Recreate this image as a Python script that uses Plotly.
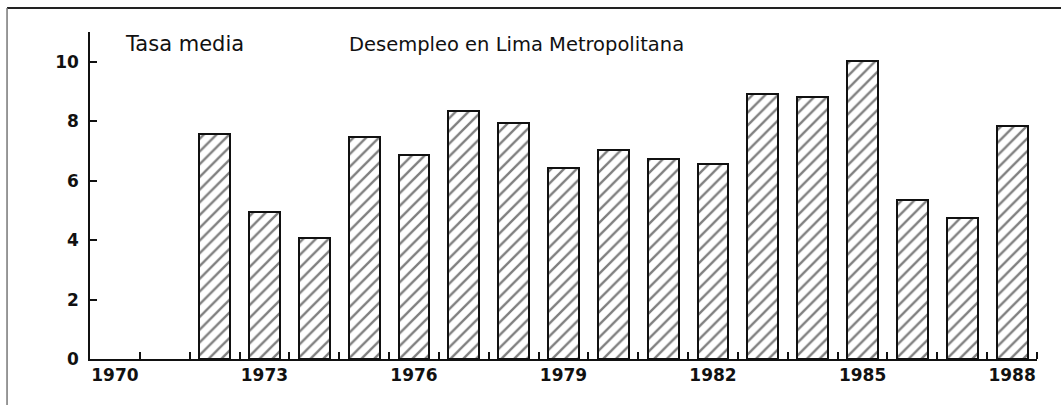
"""Desempleo en Lima Metropolitana: hatched bar chart."""

import plotly.graph_objects as go

# Tasa media de desempleo por año (1970 y 1971 sin dato)
YEARS = list(range(1970, 1989))
RATES = [None, None, 7.57, 4.95, 4.06, 7.47, 6.86, 8.35, 7.94, 6.42, 7.03,
         6.72, 6.56, 8.92, 8.82, 10.02, 5.34, 4.74, 7.85]

X_LABEL_YEARS = [1970, 1973, 1976, 1979, 1982, 1985, 1988]
SLOT_EDGES = [y + 0.5 for y in range(1970, 1989)]
Y_TICKS = [0, 2, 4, 6, 8, 10]

TITLE = "Desempleo en Lima Metropolitana"
Y_LABEL = "Tasa media"

INK = "#111111"
FONT = "DejaVu Sans"

fig = go.Figure()
fig.add_trace(
    go.Bar(
        x=YEARS,
        y=RATES,
        width=0.62,
        marker={
            "color": "white",
            "line": {"color": INK, "width": 2},
            "pattern": {"shape": "/", "fgcolor": "#000000", "bgcolor": "white",
                        "size": 9, "solidity": 0.26},
        },
        showlegend=False,
    )
)

fig.update_layout(
    width=1061,
    height=405,
    margin={"l": 90, "r": 24, "t": 32, "b": 46},
    paper_bgcolor="white",
    plot_bgcolor="white",
    font={"family": FONT, "color": INK},
    bargap=0,
)

fig.update_xaxes(
    range=[1969.5, 1988.5],
    tickvals=X_LABEL_YEARS,
    ticktext=[str(y) for y in X_LABEL_YEARS],
    ticks="",
    tickfont={"size": 17, "weight": "bold"},
    showgrid=False,
    zeroline=False,
    showline=True,
    linecolor=INK,
    linewidth=2,
    minor={"tickvals": SLOT_EDGES, "ticks": "inside", "ticklen": 7,
           "tickcolor": INK, "tickwidth": 1.5, "showgrid": False},
)

fig.update_yaxes(
    range=[0, 11],
    tickvals=Y_TICKS,
    ticks="inside",
    ticklen=7,
    tickwidth=1.5,
    tickcolor=INK,
    ticklabelstandoff=6,
    tickfont={"size": 17, "weight": "bold"},
    showgrid=False,
    zeroline=False,
    showline=True,
    linecolor=INK,
    linewidth=1.5,
)

fig.add_annotation(
    text=Y_LABEL, xref="paper", yref="paper", x=0.035, y=0.963,
    xanchor="left", yanchor="middle", showarrow=False,
    font={"size": 21, "family": FONT},
)
fig.add_annotation(
    text=TITLE, xref="paper", yref="paper", x=0.2714, y=0.963,
    xanchor="left", yanchor="middle", showarrow=False,
    font={"size": 19.5, "family": FONT},
)

# page frame (top and left edges of the scanned sheet)
fig.add_shape(type="line", xref="paper", yref="paper",
              x0=-0.0876, x1=1.03, y0=1.0734, y1=1.0734,
              line={"color": "#222222", "width": 2})
fig.add_shape(type="line", xref="paper", yref="paper",
              x0=-0.0876, x1=-0.0876, y0=1.0734, y1=-0.15,
              line={"color": "#777777", "width": 1.5})
fig.add_shape(type="line", xref="paper", yref="paper",
              x0=1.0265, x1=1.0265, y0=1.0734, y1=0.6,
              line={"color": "#dddddd", "width": 1})

# drop the default body margin so the figure sits at the page origin
fig.write_html(
    "out.html",
    config={"displayModeBar": False},
    post_script="document.body.style.margin='0';",
)
